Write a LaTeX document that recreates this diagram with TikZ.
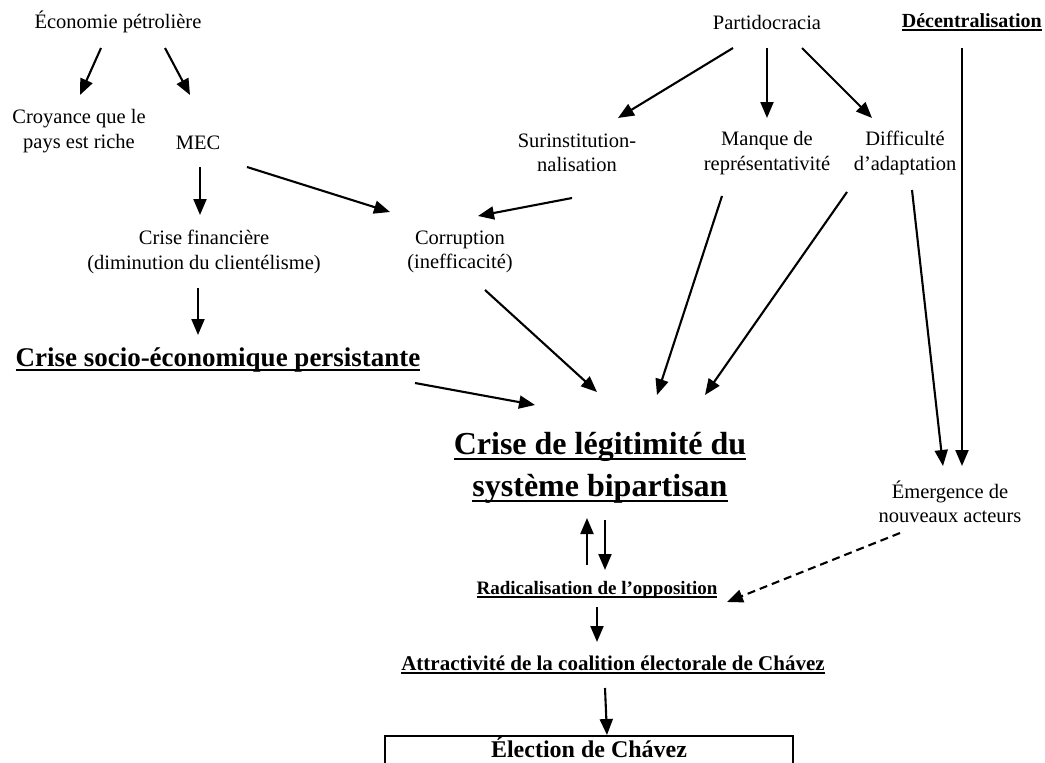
\documentclass[tikz,border=0pt]{standalone}
\usepackage{fontspec}
\setmainfont{Liberation Serif}
\usetikzlibrary{arrows.meta}
\newcommand{\myul}[1]{\leavevmode\setbox0=\hbox{#1}\rlap{\rule[-0.17em]{\wd0}{0.08em}}\copy0}
\tikzset{
  txt/.style={inner sep=0pt, align=center, font=\fontsize{20.5}{24.5}\selectfont},
  bigb/.style={inner sep=0pt, align=center, font=\fontsize{32}{42}\selectfont\bfseries},
  midb/.style={inner sep=0pt, align=center, font=\fontsize{27}{32}\selectfont\bfseries},
  smb/.style={inner sep=0pt, align=center, font=\fontsize{21}{25}\selectfont\bfseries},
  arr/.style={line width=2.1pt, -{Triangle[length=16pt,width=13pt]}},
  darr/.style={arr, dash pattern=on 8pt off 5pt},
  box/.style={draw, line width=2.2pt, minimum width=408pt, inner sep=0pt, text height=21pt, text depth=24pt, font=\fontsize{24}{28}\selectfont\bfseries}
}
\begin{document}
\begin{tikzpicture}[x=1pt,y=-1pt]
\useasboundingbox (0,0) rectangle (1045,763);
\node[txt] (eco) at (118,22) {Économie pétrolière};
\node[txt] (croy) at (79,131) {Croyance que le\\pays est riche};
\node[txt] (mec) at (198,143) {MEC};
\node[txt] (crfin) at (204,252) {Crise financière\\(diminution du clientélisme)};
\node[txt] (corr) at (460,252) {Corruption\\(inefficacité)};
\node[midb] (socio) at (218,360) {\myul{Crise socio-économique persistante}};
\node[txt] (parti) at (767,22) {Partidocracia};
\node[smb, anchor=east, font=\fontsize{20}{24}\selectfont\bfseries] (dec) at (1042,22) {\myul{Décentralisation}};
\node[txt] (surinst) at (577,153) {Surinstitution-\\nalisation};
\node[txt] (manque) at (767,153) {Manque de\\représentativité};
\node[txt] (diff) at (905,153) {Difficulté\\d’adaptation};
\node[txt] (emerg) at (950,502) {Émergence de\\nouveaux acteurs};
\node[bigb] (legit) at (600,468) {\myul{Crise de légitimité du}\\\myul{système bipartisan}};
\node[smb, font=\fontsize{19}{23}\selectfont\bfseries] (radi) at (597,590) {\myul{Radicalisation de l’opposition}};
\node[smb] (attr) at (613,665) {\myul{Attractivité de la coalition électorale de Chávez}};
\node[box, anchor=north] (elect) at (589,735) {Élection de Chávez};

\draw[arr] ([shift={(-17,26)}]eco.center) -- ([shift={(1,-36)}]croy.center);
\draw[arr] ([shift={(47,26)}]eco.center) -- ([shift={(-8,-48)}]mec.center);
\draw[arr] ([shift={(2,24)}]mec.center) -- ([shift={(-4,-37)}]crfin.center);
\draw[arr] ([shift={(49,24)}]mec.center) -- ([shift={(-70,-40)}]corr.center);
\draw[arr] ([shift={(-5,45)}]surinst.center) -- ([shift={(18,-36)}]corr.center);
\draw[arr] ([shift={(-6,36)}]crfin.center) -- ([shift={(-20,-25)}]socio.center);
\draw[arr] ([shift={(197,23)}]socio.center) -- ([shift={(-65,-63)}]legit.center);
\draw[arr] ([shift={(25,38)}]corr.center) -- ([shift={(-3,-76)}]legit.center);
\draw[arr] ([shift={(-45,43)}]manque.center) -- ([shift={(57,-73)}]legit.center);
\draw[arr] ([shift={(-58,39)}]diff.center) -- ([shift={(105,-73)}]legit.center);
\draw[arr] ([shift={(-34,26)}]parti.center) -- ([shift={(41,-35)}]surinst.center);
\draw[arr] ([shift={(0,26)}]parti.center) -- ([shift={(0,-35)}]manque.center);
\draw[arr] ([shift={(35,26)}]parti.center) -- ([shift={(-33,-35)}]diff.center);
\draw[arr] ([shift={(-80,26)}]dec.east) -- ([shift={(12,-36)}]emerg.center);
\draw[arr] ([shift={(7,37)}]diff.center) -- ([shift={(-7,-36)}]emerg.center);
\draw[darr] ([shift={(-50,31)}]emerg.center) -- ([shift={(130,12)}]radi.center);
\draw[arr] ([shift={(-10,-25)}]radi.center) -- ([shift={(-13,50)}]legit.center);
\draw[arr] ([shift={(8,-70)}]radi.center) -- ([shift={(8,-20)}]radi.center);
\draw[arr] ([shift={(0,17)}]radi.center) -- ([shift={(-16,-23)}]attr.center);
\draw[arr] ([shift={(-8,23)}]attr.center) -- ([shift={(18,0)}]elect.north);
\end{tikzpicture}
\end{document}
